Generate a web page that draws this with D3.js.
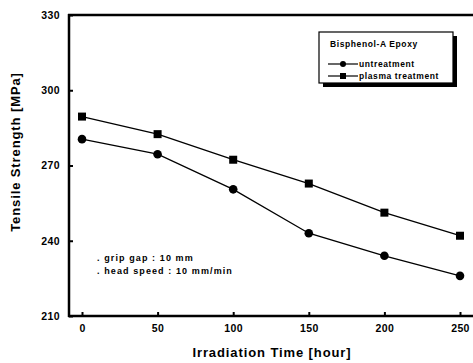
<!DOCTYPE html>
<html><head><meta charset="utf-8">
<script src="https://cdn.jsdelivr.net/npm/d3@7"></script>
<style>body{margin:0;background:#fff}svg{display:block}text{font-family:"Liberation Sans",Arial,sans-serif;font-weight:bold;fill:#000}</style>
</head><body>
<script>
const times = [0, 50, 100, 150, 200, 250];
const untreatment = [280.5, 274.5, 260.5, 243, 234, 226];
const plasma = [289.5, 282.5, 272.3, 262.8, 251.2, 242];
const yTicks = [210, 240, 270, 300, 330];
const xTicks = [0, 50, 100, 150, 200, 250];

const W = 473, H = 363;
const svg = d3.select("body").append("svg").attr("width", W).attr("height", H);
const x = d3.scaleLinear().domain([0, 250]).range([82, 460]);
const y = d3.scaleLinear().domain([210, 330]).range([316, 15]);

// frame (left, top, bottom; right side cropped)
const fr = svg.append("g").attr("stroke", "#000").attr("stroke-width", 2.5).attr("fill", "none");
fr.append("line").attr("x1", 69).attr("x2", 69).attr("y1", 14).attr("y2", 317);
fr.append("line").attr("x1", 68).attr("x2", 475).attr("y1", 15).attr("y2", 15);
fr.append("line").attr("x1", 68).attr("x2", 475).attr("y1", 316).attr("y2", 316);

// axes
const yAxis = d3.axisLeft(y).tickValues(yTicks).tickSize(-4).tickPadding(9).tickFormat(d3.format("d"));
const gy = svg.append("g").attr("transform", "translate(69,0)").call(yAxis);
gy.select(".domain").remove();
gy.selectAll("line").attr("stroke-width", 2);
gy.selectAll("text").attr("font-size", 10.5).attr("font-family", "Liberation Sans, Arial, sans-serif").attr("font-weight", "bold").attr("letter-spacing", 0.4);

const xAxis = d3.axisBottom(x).tickValues(xTicks).tickSize(-4).tickPadding(9).tickFormat(d3.format("d"));
const gx = svg.append("g").attr("transform", "translate(0,316)").call(xAxis);
gx.select(".domain").remove();
gx.selectAll("line").attr("stroke-width", 2);
gx.selectAll("text").attr("font-size", 10.5).attr("font-family", "Liberation Sans, Arial, sans-serif").attr("font-weight", "bold").attr("letter-spacing", 0.4);

// axis titles
svg.append("text").attr("x", 272).attr("y", 357).attr("text-anchor", "middle").attr("font-size", 13).attr("letter-spacing", 0.9).text("Irradiation Time [hour]");
svg.append("text").attr("transform", "translate(20,152) rotate(-90)").attr("text-anchor", "middle").attr("font-size", 13).attr("letter-spacing", 0.9).text("Tensile Strength [MPa]");

// lines
const line = d3.line().x((d, i) => x(times[i])).y(d => y(d));
[untreatment, plasma].forEach(s => {
  svg.append("path").attr("d", line(s)).attr("fill", "none").attr("stroke", "#000").attr("stroke-width", 1.3);
});
svg.append("g").selectAll("circle").data(untreatment).join("circle")
  .attr("cx", (d, i) => x(times[i])).attr("cy", d => y(d)).attr("r", 4.3).attr("fill", "#000");
svg.append("g").selectAll("rect").data(plasma).join("rect")
  .attr("x", (d, i) => x(times[i]) - 4).attr("y", d => y(d) - 4).attr("width", 8).attr("height", 8).attr("fill", "#000");

// annotation
const notes = [". grip gap : 10 mm", ". head speed : 10 mm/min"];
svg.append("g").selectAll("text").data(notes).join("text")
  .attr("x", 97).attr("y", (d, i) => 261 + i * 13).attr("font-size", 9).attr("letter-spacing", 1.1).text(d => d);

// legend
const lg = svg.append("g");
lg.append("rect").attr("x", 323).attr("y", 36).attr("width", 134).attr("height", 51).attr("fill", "#000");
lg.append("rect").attr("x", 319).attr("y", 32).attr("width", 134).attr("height", 51).attr("fill", "#fff").attr("stroke", "#000").attr("stroke-width", 1.2);
lg.append("text").attr("x", 330).attr("y", 47).attr("font-size", 8.5).attr("letter-spacing", 0.6).text("Bisphenol-A Epoxy");
const legItems = ["untreatment", "plasma treatment"];
legItems.forEach((name, i) => {
  const yy = 64 + i * 12;
  lg.append("line").attr("x1", 328).attr("x2", 358).attr("y1", yy).attr("y2", yy).attr("stroke", "#000").attr("stroke-width", 1.2);
  if (i === 0) lg.append("circle").attr("cx", 343).attr("cy", yy).attr("r", 3).attr("fill", "#000");
  else lg.append("rect").attr("x", 340).attr("y", yy - 3).attr("width", 6).attr("height", 6).attr("fill", "#000");
  lg.append("text").attr("x", 359).attr("y", yy + 3).attr("font-size", 8.5).attr("letter-spacing", 0.6).text(name);
});
</script>
</body></html>
